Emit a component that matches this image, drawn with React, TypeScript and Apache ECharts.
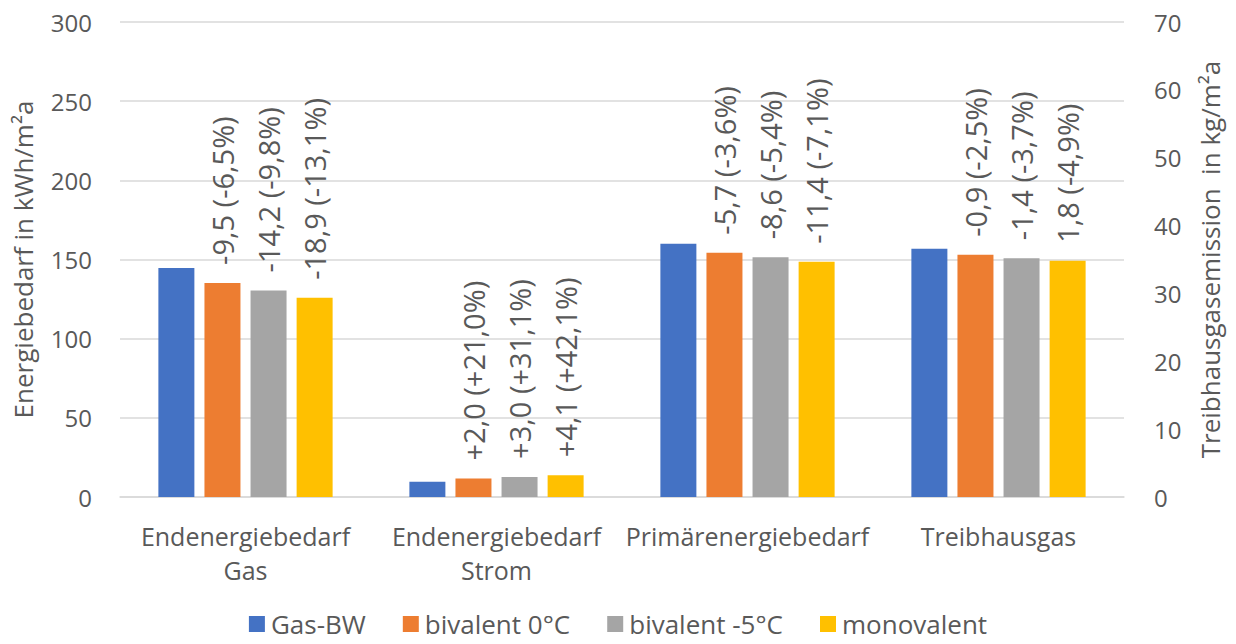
import React, { useEffect, useRef } from "react";
import * as echarts from "echarts";

const categories = ["Endenergiebedarf\nGas", "Endenergiebedarf\nStrom", "Primärenergiebedarf", "Treibhausgas"];
const seriesNames = ["Gas-BW", "bivalent 0°C", "bivalent -5°C", "monovalent"];
const colors = ["#4472C4", "#ED7D31", "#A5A5A5", "#FFC000"];

// Energy values (left axis, kWh/m²a) for the first three categories
const gasBW = [144.7, 9.7, 160.0];
const bivalent0 = [135.2, 11.7, 154.3];
const bivalent5 = [130.5, 12.7, 151.4];
const monovalent = [125.8, 13.8, 148.6];

// Greenhouse gas values (right axis, kg/m²a)
const ghgValues = [36.6, 35.7, 35.2, 34.8];

// Data labels
const labelsGasBW = ["", "", "", ""];
const labelsBivalent0 = ["-9,5 (-6,5%)", "+2,0 (+21,0%)", "-5,7 (-3,6%)", "-0,9 (-2,5%)"];
const labelsBivalent5 = ["-14,2 (-9,8%)", "+3,0 (+31,1%)", "-8,6 (-5,4%)", "-1,4 (-3,7%)"];
const labelsMonovalent = ["-18,9 (-13,1%)", "+4,1 (+42,1%)", "-11,4 (-7,1%)", "1,8 (-4,9%)"];

const leftTicks = { min: 0, max: 300, interval: 50 };
const rightTicks = { min: 0, max: 70, interval: 10 };

const FONT = "'Open Sans', 'Noto Sans', sans-serif";
const TEXT = "#595959";

export default function App() {
  const ref = useRef<HTMLDivElement>(null);
  useEffect(() => {
    if (!ref.current) return;
    const chart = echarts.init(ref.current, undefined, { renderer: "svg" });
    const energy = [gasBW, bivalent0, bivalent5, monovalent];
    const labels = [labelsGasBW, labelsBivalent0, labelsBivalent5, labelsMonovalent];

    const makeLabel = (idx: number) => ({
      show: true,
      position: "top",
      distance: 15,
      rotate: 90,
      align: "left",
      verticalAlign: "middle",
      offset: [3, 0],
      fontSize: 29,
      fontFamily: FONT,
      color: TEXT,
      formatter: (p: any) => labels[idx][p.dataIndex] || "",
    });

    const barCommon = {
      type: "bar",
      barWidth: 36,
      barGap: "28%",
    };

    const series: any[] = [];
    energy.forEach((arr, i) => {
      series.push({
        ...barCommon,
        name: seriesNames[i],
        xAxisIndex: 0,
        yAxisIndex: 0,
        itemStyle: { color: colors[i] },
        label: makeLabel(i),
        data: [...arr, null],
      });
    });
    ghgValues.forEach((v, i) => {
      series.push({
        ...barCommon,
        name: seriesNames[i],
        xAxisIndex: 1,
        yAxisIndex: 1,
        itemStyle: { color: colors[i] },
        label: makeLabel(i),
        data: [null, null, null, v],
      });
    });

    chart.setOption({
      animation: false,
      textStyle: { fontFamily: FONT },
      grid: { left: 120, right: 112, top: 22, bottom: 147 },
      legend: {
        bottom: 2,
        left: "center",
        itemWidth: 16,
        itemHeight: 16,
        itemGap: 37,
        icon: "rect",
        data: seriesNames,
        textStyle: { fontSize: 26, color: TEXT, fontFamily: FONT, padding: [0, 0, 0, 1] },
      },
      xAxis: [
        {
          type: "category",
          data: categories,
          axisLine: { lineStyle: { color: "#d9d9d9", width: 1.5 } },
          axisTick: { show: false },
          axisLabel: {
            interval: 0,
            fontSize: 25,
            lineHeight: 34,
            margin: 22,
            color: TEXT,
            fontFamily: FONT,
          },
        },
        {
          type: "category",
          data: categories,
          show: false,
        },
      ],
      yAxis: [
        {
          type: "value",
          ...leftTicks,
          position: "left",
          name: "Energiebedarf in kWh/m²a",
          nameLocation: "middle",
          nameRotate: 90,
          nameGap: 84,
          nameTextStyle: { fontSize: 26, color: TEXT, fontFamily: FONT },
          axisLine: { show: false },
          axisTick: { show: false },
          axisLabel: { fontSize: 24, color: TEXT, margin: 28, fontFamily: FONT },
          splitLine: { lineStyle: { color: "#d9d9d9", width: 1.5 } },
        },
        {
          type: "value",
          ...rightTicks,
          position: "right",
          name: "Treibhausgasemission  in kg/m²a",
          nameLocation: "middle",
          nameRotate: 90,
          nameGap: 73,
          nameTextStyle: { fontSize: 26, color: TEXT, fontFamily: FONT },
          axisLine: { show: false },
          axisTick: { show: false },
          axisLabel: { fontSize: 24, color: TEXT, margin: 30, fontFamily: FONT },
          splitLine: { show: false },
        },
      ],
      series,
    });
    return () => chart.dispose();
  }, []);
  return (
    <div
      ref={ref}
      style={{ position: "fixed", left: 0, top: 0, width: 1236, height: 644, background: "#fff" }}
    />
  );
}
